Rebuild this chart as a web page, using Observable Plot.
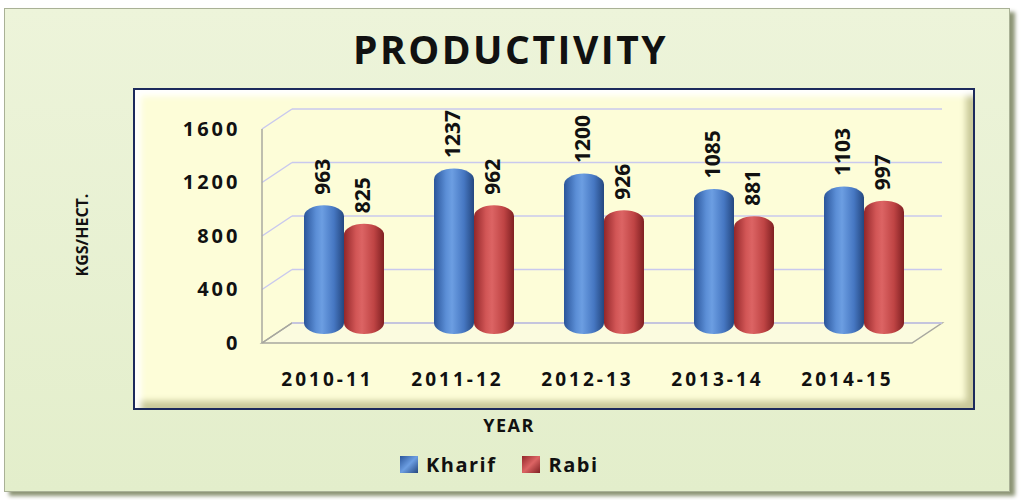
<!DOCTYPE html>
<html>
<head>
<meta charset="utf-8">
<script src="https://cdn.jsdelivr.net/npm/d3@7"></script>
<script src="https://cdn.jsdelivr.net/npm/@observablehq/plot@0.6"></script>
<style>
  html, body { margin: 0; padding: 0; background: #ffffff; }
  body { width: 1021px; height: 500px; position: relative; overflow: hidden; font-family: "Open Sans", sans-serif; }
  #outer { position: absolute; left: 4px; top: 8px; width: 1004px; height: 482px;
    background: linear-gradient(#edf4da, #e3eecb); border: 1px solid #a9b196;
    box-shadow: 5px 4px 4px #8c9474; }
  #inner { position: absolute; left: 133px; top: 88px; width: 838px; height: 318px;
    background: #fdfdd8; border: 2px solid #1c2a5c;
    box-shadow: inset 6px 6px 6px #ffffff, inset -7px -7px 6px #c9c99a; }
  #title { position: absolute; left: 0; width: 1021px; top: 24px; text-align: center;
    font: bold 39px "Open Sans", sans-serif; letter-spacing: 2.5px; color: #111; line-height: 50px; }
  #xlabel { position: absolute; left: 459px; width: 100px; top: 413px; text-align: center;
    font: bold 18px "Open Sans", sans-serif; letter-spacing: 1.5px; color: #111; }
  #ylabel { position: absolute; left: 82px; top: 235px; transform: translate(-50%, -50%) rotate(-90deg);
    font: bold 16px "Open Sans", sans-serif; letter-spacing: 0px; color: #111; white-space: nowrap; }
  #legend { position: absolute; top: 451px; left: 400px; display: flex; align-items: center;
    font: bold 20px "Open Sans", sans-serif; letter-spacing: 1.5px; color: #111; }
  .sw { display: inline-block; width: 18px; height: 17px; margin-right: 8px; }
  .item { display: flex; align-items: center; margin-right: 26px; }
  #chart { position: absolute; left: 0; top: 0; }
  #chart [aria-label^="x-axis"] text { font-size: 19px; letter-spacing: 3px; }
  #chart [aria-label^="y-axis"] text { font-size: 20px; letter-spacing: 3px; }
</style>
</head>
<body>
<div id="outer"></div>
<div id="inner"></div>
<div id="title">PRODUCTIVITY</div>
<div id="ylabel">KGS/HECT.</div>
<div id="xlabel">YEAR</div>
<div id="legend"></div>
<div id="chart"></div>
<script>
const years = ["2010-11", "2011-12", "2012-13", "2013-14", "2014-15"];
const kharif = [963, 1237, 1200, 1085, 1103];
const rabi = [825, 962, 926, 881, 997];
const seriesNames = ["Kharif", "Rabi"];
const yTicks = [0, 400, 800, 1200, 1600];

const kharifRows = years.map((y, i) => ({year: y, value: kharif[i], series: seriesNames[0]}));
const rabiRows = years.map((y, i) => ({year: y, value: rabi[i], series: seriesNames[1]}));

const DEPTH_X = 30, DEPTH_Y = -20;   // 3-D wall offset
const BAR_DX = 17, BAR_DY = -9;      // bars sit mid-depth

function walls(index, scales, values, dims) {
  const g = d3.create("svg:g");
  const y = scales.y;
  const x0 = dims.marginLeft, x1 = dims.width - dims.marginRight;
  const yb = y(0), yt = y(yTicks[yTicks.length - 1]);
  g.append("path")
    .attr("d", `M${x0},${yb}L${x1},${yb}L${x1 + DEPTH_X},${yb + DEPTH_Y}L${x0 + DEPTH_X},${yb + DEPTH_Y}Z`)
    .attr("fill", "#fbfbdf").attr("stroke", "#a8a8a0").attr("stroke-width", 1.5);
  for (const t of yTicks) {
    const yy = y(t);
    g.append("line").attr("x1", x0).attr("y1", yy).attr("x2", x0 + DEPTH_X).attr("y2", yy + DEPTH_Y)
      .attr("stroke", t === 0 ? "#a8a8a0" : "#c9c9ee").attr("stroke-width", 1.5);
    g.append("line").attr("x1", x0 + DEPTH_X).attr("y1", yy + DEPTH_Y).attr("x2", x1 + DEPTH_X).attr("y2", yy + DEPTH_Y)
      .attr("stroke", "#c9c9ee").attr("stroke-width", 1.5);
  }
  g.append("line").attr("x1", x0).attr("y1", yb).attr("x2", x0).attr("y2", yt)
    .attr("stroke", "#a8a8a0").attr("stroke-width", 1.5);
  return g.node();
}

const chart = Plot.plot({
  width: 1021,
  height: 500,
  marginLeft: 262,
  marginRight: 109,
  marginTop: 129,
  marginBottom: 157,
  style: {background: "transparent", fontFamily: "Open Sans", fontWeight: "bold", color: "#111", overflow: "visible"},
  x: {domain: years, paddingInner: 0.385, paddingOuter: 0.1925, tickSize: 0, tickPadding: 29, label: null},
  y: {domain: [0, 1600], ticks: yTicks, tickSize: 0, tickPadding: 22, label: null, tickFormat: d => String(d)},
  marks: [
    walls,
    Plot.barY(kharifRows, {x: "year", y: "value", fill: "url(#gBlue)", insetRight: 40, dx: BAR_DX, dy: BAR_DY, rx: 20, ry: 11}),
    Plot.barY(rabiRows, {x: "year", y: "value", fill: "url(#gRed)", insetLeft: 40, dx: BAR_DX, dy: BAR_DY, rx: 20, ry: 11}),
    Plot.text(kharifRows, {x: "year", y: "value", text: d => String(d.value), rotate: -90, textAnchor: "start",
      dx: BAR_DX - 21, dy: BAR_DY - 11, fontSize: 21, fontWeight: "bold", fill: "#111"}),
    Plot.text(rabiRows, {x: "year", y: "value", text: d => String(d.value), rotate: -90, textAnchor: "start",
      dx: BAR_DX + 19, dy: BAR_DY - 11, fontSize: 21, fontWeight: "bold", fill: "#111"})
  ]
});

const defs = d3.create("svg:defs");
function grad(id, stops) {
  const lg = defs.append("linearGradient").attr("id", id).attr("x1", "0").attr("x2", "1").attr("y1", "0").attr("y2", "0");
  for (const [o, c] of stops) lg.append("stop").attr("offset", o).attr("stop-color", c);
}
grad("gBlue", [[0, "#2a559a"], [0.3, "#5b8ed6"], [0.45, "#6c9ee2"], [0.75, "#4677c2"], [1, "#24477f"]]);
grad("gRed", [[0, "#93272a"], [0.3, "#d25656"], [0.45, "#dc6464"], [0.75, "#bf4444"], [1, "#7f2022"]]);
chart.insertBefore(defs.node(), chart.firstChild);
document.getElementById("chart").appendChild(chart);

const legend = document.getElementById("legend");
const swatchFill = {Kharif: "linear-gradient(135deg, #2a559a, #6c9ee2 50%, #24477f)", Rabi: "linear-gradient(135deg, #93272a, #dc6464 50%, #7f2022)"};
for (const s of seriesNames) {
  const it = document.createElement("div");
  it.className = "item";
  const sw = document.createElement("span");
  sw.className = "sw";
  sw.style.background = swatchFill[s];
  const tx = document.createElement("span");
  tx.textContent = s;
  it.appendChild(sw); it.appendChild(tx);
  legend.appendChild(it);
}
</script>
</body>
</html>
